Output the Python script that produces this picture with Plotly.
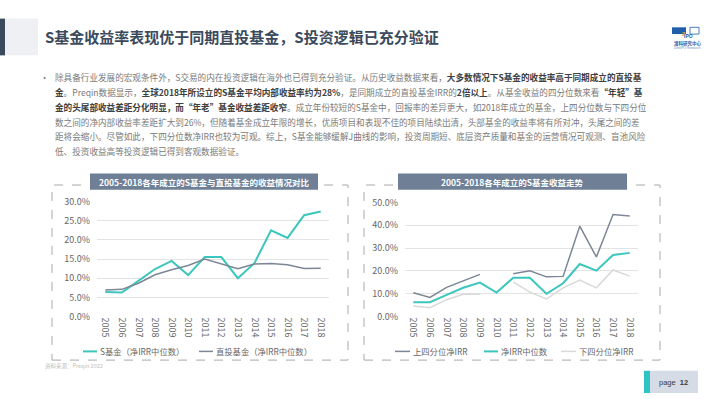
import plotly.graph_objects as go

W, H = 710, 399

years = [str(y) for y in range(2005, 2019)]

# Left chart: S fund vs direct fund (net IRR median, %)
s_fund_median = [6.4, 6.3, 9.3, 12.4, 14.5, 10.8, 15.5, 15.5, 10.0, 13.9, 22.5, 20.5, 26.4, 27.4]
direct_fund_median = [6.9, 7.1, 8.7, 10.9, 12.2, 13.3, 15.0, 13.7, 12.5, 13.7, 13.8, 13.5, 12.5, 12.6]

# Right chart: S fund quartiles (%)
upper_quartile = [10.4, 8.4, 12.8, 15.6, 18.5, None, 18.8, 20.1, 17.4, 17.6, 39.6, 26.1, 44.7, 44.0]
median_irr = [6.3, 6.3, 9.5, 12.6, 14.9, 10.5, 17.0, 17.0, 10.0, 14.6, 23.0, 20.1, 27.0, 27.9]
lower_quartile = [4.6, 3.9, 7.4, 9.8, 9.8, None, 15.2, 10.7, 7.7, 12.6, 16.0, 12.6, 20.4, 17.7]

left_ticks = [0, 5, 10, 15, 20, 25, 30]
left_tick_labels = ["0.0%", "5.0%", "10.0%", "15.0%", "20.0%", "25.0%", "30.0%"]
right_ticks = [0, 10, 20, 30, 40, 50]
right_tick_labels = ["0.0%", "10.0%", "20.0%", "30.0%", "40.0%", "50.0%"]

TEAL = "#3cc6bd"
SLATE = "#7d8696"
LIGHT = "#d9d9d9"
FONT = "Noto Sans CJK SC"


def X(px):
    return px / W


def Y(px):
    return 1 - px / H


fig = go.Figure()

fig.add_trace(go.Scatter(x=years, y=s_fund_median, mode="lines", name="S基金（净IRR中位数）",
                         line=dict(color=TEAL, width=2), xaxis="x", yaxis="y"))
fig.add_trace(go.Scatter(x=years, y=direct_fund_median, mode="lines", name="直投基金（净IRR中位数）",
                         line=dict(color=SLATE, width=1.5), xaxis="x", yaxis="y"))

fig.add_trace(go.Scatter(x=years, y=upper_quartile, mode="lines", name="上四分位净IRR",
                         line=dict(color=SLATE, width=1.5), xaxis="x2", yaxis="y2"))
fig.add_trace(go.Scatter(x=years, y=lower_quartile, mode="lines", name="下四分位净IRR",
                         line=dict(color=LIGHT, width=1.5), xaxis="x2", yaxis="y2"))
fig.add_trace(go.Scatter(x=years, y=median_irr, mode="lines", name="净IRR中位数",
                         line=dict(color=TEAL, width=2), xaxis="x2", yaxis="y2"))

tickfont = dict(family=FONT, size=9, color="#666666")
xcommon = dict(type="category", categoryorder="array", categoryarray=years,
               range=[-0.5, 13.5], tickangle=90, showgrid=False, showline=False,
               ticks="", tickfont=tickfont, fixedrange=True)
ycommon = dict(showgrid=True, gridcolor="#e3e3e3", gridwidth=1, zeroline=False,
               showline=False, ticks="", tickfont=tickfont, ticklabelstandoff=6,
               fixedrange=True)

fig.update_layout(
    width=W, height=H,
    margin=dict(l=0, r=0, t=0, b=0),
    paper_bgcolor="white", plot_bgcolor="white",
    showlegend=False,
    hovermode=False,
    font=dict(family=FONT),
    xaxis=dict(domain=[X(97), X(329)], anchor="y", **xcommon),
    yaxis=dict(domain=[Y(320), Y(201)], anchor="x", range=[0, 30],
               tickvals=left_ticks, ticktext=left_tick_labels, **ycommon),
    xaxis2=dict(domain=[X(405), X(638)], anchor="y2", **xcommon),
    yaxis2=dict(domain=[Y(320), Y(202)], anchor="x2", range=[0, 50],
                tickvals=right_ticks, ticktext=right_tick_labels, **ycommon),
)

shapes = []
annotations = []

# header
shapes.append(dict(type="rect", xref="paper", yref="paper", x0=X(0), x1=X(5), y0=Y(50), y1=Y(12),
                   fillcolor="#3b4a5c", line=dict(width=0), layer="below"))
shapes.append(dict(type="rect", xref="paper", yref="paper", x0=X(5), x1=X(38), y0=Y(50), y1=Y(12),
                   fillcolor="#eef0f3", line=dict(width=0), layer="below"))
annotations.append(dict(text="<b>S基金收益率表现优于同期直投基金，S投资逻辑已充分验证</b>",
                        x=X(43), y=Y(31), xref="paper", yref="paper", xanchor="left", yanchor="middle",
                        showarrow=False, font=dict(family=FONT, size=15, color="#3b4a5c")))

# logo
shapes.append(dict(type="rect", xref="paper", yref="paper", x0=X(672), x1=X(686), y0=Y(28), y1=Y(21),
                   fillcolor="#1f5fa8", line=dict(width=0)))
shapes.append(dict(type="rect", xref="paper", yref="paper", x0=X(690), x1=X(699), y0=Y(28), y1=Y(21),
                   fillcolor="white", line=dict(width=0.8, color="#1f5fa8")))
annotations.append(dict(text="<b>ZERO</b>", x=X(679), y=Y(24.5), xref="paper", yref="paper",
                        showarrow=False, font=dict(family="Liberation Sans", size=5, color="white")))
annotations.append(dict(text="<b>2</b>", x=X(688), y=Y(23), xref="paper", yref="paper",
                        showarrow=False, font=dict(family="Liberation Sans", size=6, color="#f0a030")))
annotations.append(dict(text="<b>IPO</b>", x=X(694.5), y=Y(24.5), xref="paper", yref="paper",
                        showarrow=False, font=dict(family="Liberation Sans", size=5, color="#1f5fa8")))
annotations.append(dict(text="<b>清科研究中心</b>", x=X(672), y=Y(32), xref="paper", yref="paper",
                        xanchor="left", showarrow=False, font=dict(family=FONT, size=4.5, color="#1f5fa8")))
annotations.append(dict(text="ZeroIPO Research", x=X(672), y=Y(38), xref="paper", yref="paper",
                        xanchor="left", showarrow=False, font=dict(family="Liberation Sans", size=3.2, color="#6a8fc0")))

# paragraph
N = "#7a7a7a"
B = "#404040"


def b(t):
    return f"<b><span style='color:{B}'>{t}</span></b>"


lines = [
    "除具备行业发展的宏观条件外，S交易的内在投资逻辑在海外也已得到充分验证。从历史收益数据来看，" + b("大多数情况下S基金的收益率高于同期成立的直投基"),
    b("金") + "。Preqin数据显示，" + b("全球2018年所设立的S基金平均内部收益率约为28%") + "，是同期成立的直投基金IRR的" + b("2倍以上") + "。从基金收益的四分位数来看" + b("“年轻”基"),
    b("金的头尾部收益差距分化明显，而“年老”基金收益差距收窄") + "。成立年份较短的S基金中，回报率的差异更大，如2018年成立的基金，上四分位数与下四分位",
    "数之间的净内部收益率差距扩大到26%，但随着基金成立年限的增长，优质项目和表现不佳的项目陆续出清，头部基金的收益率将有所对冲，头尾之间的差",
    "距将会缩小。尽管如此，下四分位数净IRR也较为可观。综上，S基金能够缓解J曲线的影响，投资周期短、底层资产质量和基金的运营情况可观测、盲池风险",
    "低、投资收益高等投资逻辑已得到客观数据验证。",
]
annotations.append(dict(text="•", x=X(44), y=Y(72.5), xref="paper", yref="paper", xanchor="center",
                        yanchor="middle", showarrow=False, font=dict(family=FONT, size=9, color=N)))
for i, ln in enumerate(lines):
    annotations.append(dict(text=ln, x=X(53), y=Y(72.5 + i * 15.3), xref="paper", yref="paper",
                            xanchor="left", yanchor="middle", showarrow=False,
                            font=dict(family=FONT, size=8.6, color=N)))

# chart boxes
for (x0, x1) in [(52, 348), (364, 660)]:
    shapes.append(dict(type="rect", xref="paper", yref="paper", x0=X(x0), x1=X(x1), y0=Y(365), y1=Y(184),
                       line=dict(color="#a9a9a9", width=1, dash="dash"), fillcolor="rgba(0,0,0,0)", layer="below"))

banners = [(90, 318, "2005-2018各年成立的S基金与直投基金的收益情况对比"),
           (398, 627, "2005-2018各年成立的S基金收益走势")]
for (x0, x1, t) in banners:
    shapes.append(dict(type="rect", xref="paper", yref="paper", x0=X(x0), x1=X(x1), y0=Y(189), y1=Y(172),
                       fillcolor="#6e7f96", line=dict(width=0)))
    annotations.append(dict(text=f"<b>{t}</b>", x=X((x0 + x1) / 2), y=Y(180.5), xref="paper", yref="paper",
                            showarrow=False, xanchor="center", yanchor="middle",
                            font=dict(family=FONT, size=8.5, color="white")))

# manual legends
legend_items = [
    (83, 97, TEAL, 2, "S基金（净IRR中位数）"),
    (199, 213, SLATE, 1.5, "直投基金（净IRR中位数）"),
    (395, 410, SLATE, 1.5, "上四分位净IRR"),
    (484, 498, TEAL, 2, "净IRR中位数"),
    (561, 576, LIGHT, 1.5, "下四分位净IRR"),
]
for (x0, x1, c, w, t) in legend_items:
    shapes.append(dict(type="line", xref="paper", yref="paper", x0=X(x0), x1=X(x1), y0=Y(356), y1=Y(356),
                       line=dict(color=c, width=w)))
    annotations.append(dict(text=t, x=X(x1 + 1), y=Y(356), xref="paper", yref="paper",
                            xanchor="left", yanchor="middle", showarrow=False,
                            font=dict(family=FONT, size=8.3, color="#666666")))

# source
annotations.append(dict(text="资料来源：Preqin 2022", x=X(43), y=Y(371), xref="paper", yref="paper",
                        xanchor="left", yanchor="middle", showarrow=False,
                        font=dict(family=FONT, size=5.5, color="#c0c0c0")))

# page box
shapes.append(dict(type="rect", xref="paper", yref="paper", x0=X(644), x1=X(650), y0=Y(399), y1=Y(376),
                   fillcolor="#2ec4c6", line=dict(width=0)))
shapes.append(dict(type="rect", xref="paper", yref="paper", x0=X(650), x1=X(698), y0=Y(399), y1=Y(376),
                   fillcolor="#d6dce6", line=dict(width=0)))
annotations.append(dict(text="page  <b>12</b>", x=X(673), y=Y(388), xref="paper", yref="paper",
                        xanchor="center", yanchor="middle", showarrow=False,
                        font=dict(family="Liberation Sans", size=7.5, color="#3a3a3a")))

fig.update_layout(shapes=shapes, annotations=annotations)
fig.write_html("out.html", config={"displayModeBar": False, "staticPlot": True},
               post_script="document.body.style.margin='0';document.body.style.overflow='hidden';")
